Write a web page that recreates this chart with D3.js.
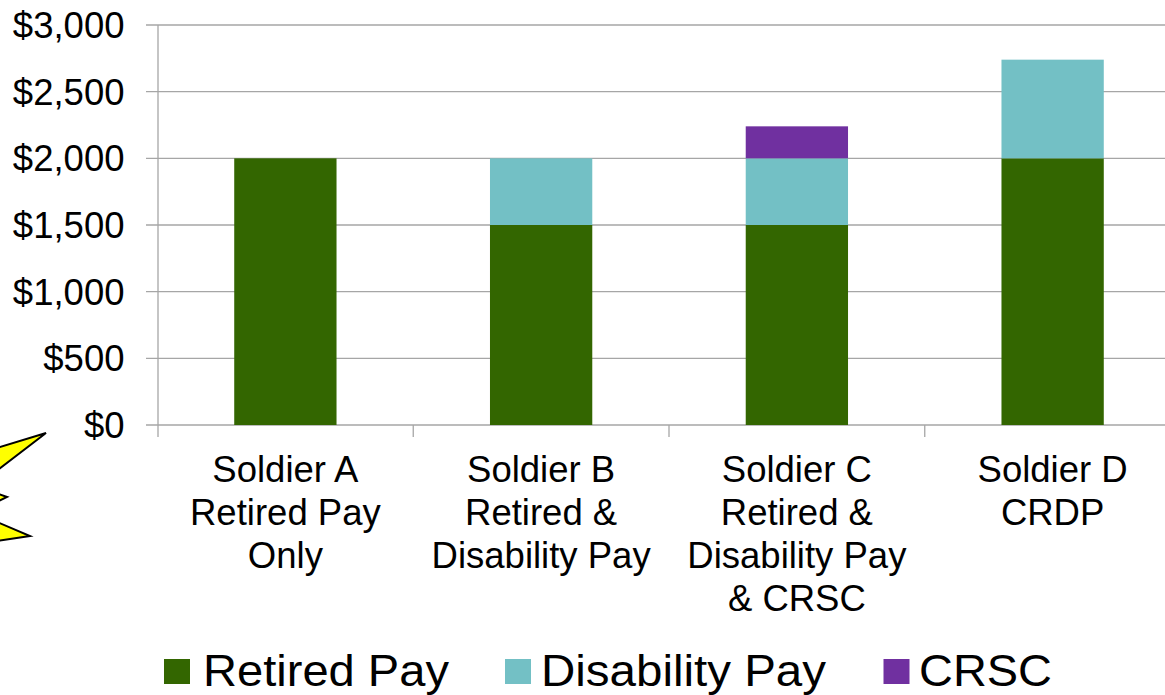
<!DOCTYPE html>
<html>
<head>
<meta charset="utf-8">
<script src="https://cdn.jsdelivr.net/npm/d3@7"></script>
<style>
	html, body { margin: 0; padding: 0; background: #fff; overflow: hidden; }
	svg { display: block; }
	text { font-family: "Liberation Sans", Arial, sans-serif; fill: #000; }
</style>
</head>
<body>
<svg id="chart" width="1165" height="695"></svg>
<script>
const categories = ["Soldier A", "Soldier B", "Soldier C", "Soldier D"];
const categoryLabels = [
	["Soldier A", "Retired Pay", "Only"],
	["Soldier B", "Retired &", "Disability Pay"],
	["Soldier C", "Retired &", "Disability Pay", "& CRSC"],
	["Soldier D", "CRDP"]
];
const seriesNames = ["Retired Pay", "Disability Pay", "CRSC"];
const retiredPay = [2000, 1500, 1500, 2000];
const disabilityPay = [0, 500, 500, 740];
const crsc = [0, 0, 240, 0];
const yTicks = [0, 500, 1000, 1500, 2000, 2500, 3000];

const colors = ["#336600", "#73C0C5", "#7030A0"];
const gridColor = "#a6a6a6";

const svg = d3.select("#chart");

const x = d3.scaleBand().domain(categories).range([157.5, 1180.5]).paddingInner(0.6).paddingOuter(0.3);
const y = d3.scaleLinear().domain([0, 3000]).range([425, 25]);

// gridlines first so the bars sit on top
svg.append("g").selectAll("line")
	.data(yTicks)
	.enter().append("line")
	.attr("x1", 146)
	.attr("x2", 1181)
	.attr("y1", d => y(d))
	.attr("y2", d => y(d))
	.attr("stroke", gridColor)
	.attr("stroke-width", 1.3);

// vertical axis and the ticks under the baseline
svg.append("line")
	.attr("x1", 158).attr("x2", 158)
	.attr("y1", 25).attr("y2", 437)
	.attr("stroke", gridColor)
	.attr("stroke-width", 1.3);

svg.append("g").selectAll("line")
	.data(categories.slice(1))
	.enter().append("line")
	.attr("x1", d => x(d) - x.step() * 0.3)
	.attr("x2", d => x(d) - x.step() * 0.3)
	.attr("y1", 425)
	.attr("y2", 437)
	.attr("stroke", gridColor)
	.attr("stroke-width", 1.3);

const rows = categories.map((c, i) => ({
	category: c,
	"Retired Pay": retiredPay[i],
	"Disability Pay": disabilityPay[i],
	"CRSC": crsc[i]
}));
const stacked = d3.stack().keys(seriesNames)(rows);

svg.append("g").selectAll("g")
	.data(stacked)
	.enter().append("g")
	.attr("fill", (d, i) => colors[i])
	.selectAll("rect")
	.data(d => d)
	.enter().append("rect")
	.attr("x", d => x(d.data.category))
	.attr("width", x.bandwidth())
	.attr("y", d => y(d[1]))
	.attr("height", d => y(d[0]) - y(d[1]));

svg.append("g").selectAll("text")
	.data(yTicks)
	.enter().append("text")
	.attr("x", 124.5)
	.attr("y", d => y(d) + 13)
	.attr("text-anchor", "end")
	.attr("font-size", 36.5)
	.text(d => "$" + d3.format(",")(d));

// multi line category labels
const labels = svg.append("g").selectAll("text")
	.data(categoryLabels)
	.enter().append("text")
	.attr("text-anchor", "middle")
	.attr("font-size", 36.5);

labels.selectAll("tspan")
	.data((d, i) => d.map(t => ({ t: t, c: categories[i] })))
	.enter().append("tspan")
	.attr("x", d => x(d.c) + x.bandwidth() / 2)
	.attr("y", (d, i) => 482 + i * 43)
	.text(d => d.t);

// yellow burst poking in from the left edge
const burst = [[-10, 450], [46, 433], [-10, 476], [-10, 491], [7, 497], [-10, 505], [-10, 519], [30, 536], [-10, 542]];
svg.append("polygon")
	.attr("points", burst.map(p => p.join(",")).join(" "))
	.attr("fill", "#ffff00")
	.attr("stroke", "#000")
	.attr("stroke-width", 2);

// legend
const legendItems = [
	{ name: seriesNames[0], box: 164, text: 203, width: 246 },
	{ name: seriesNames[1], box: 505, text: 541, width: 285 },
	{ name: seriesNames[2], box: 883.5, text: 919, width: 133 }
];
legendItems.forEach((d, i) => {
	svg.append("rect")
		.attr("x", d.box)
		.attr("y", 659)
		.attr("width", 26)
		.attr("height", 25)
		.attr("fill", colors[i]);
	svg.append("text")
		.attr("x", d.text)
		.attr("y", 685.5)
		.attr("font-size", 45)
		.attr("textLength", d.width)
		.attr("lengthAdjust", "spacingAndGlyphs")
		.text(d.name);
});
</script>
</body>
</html>
